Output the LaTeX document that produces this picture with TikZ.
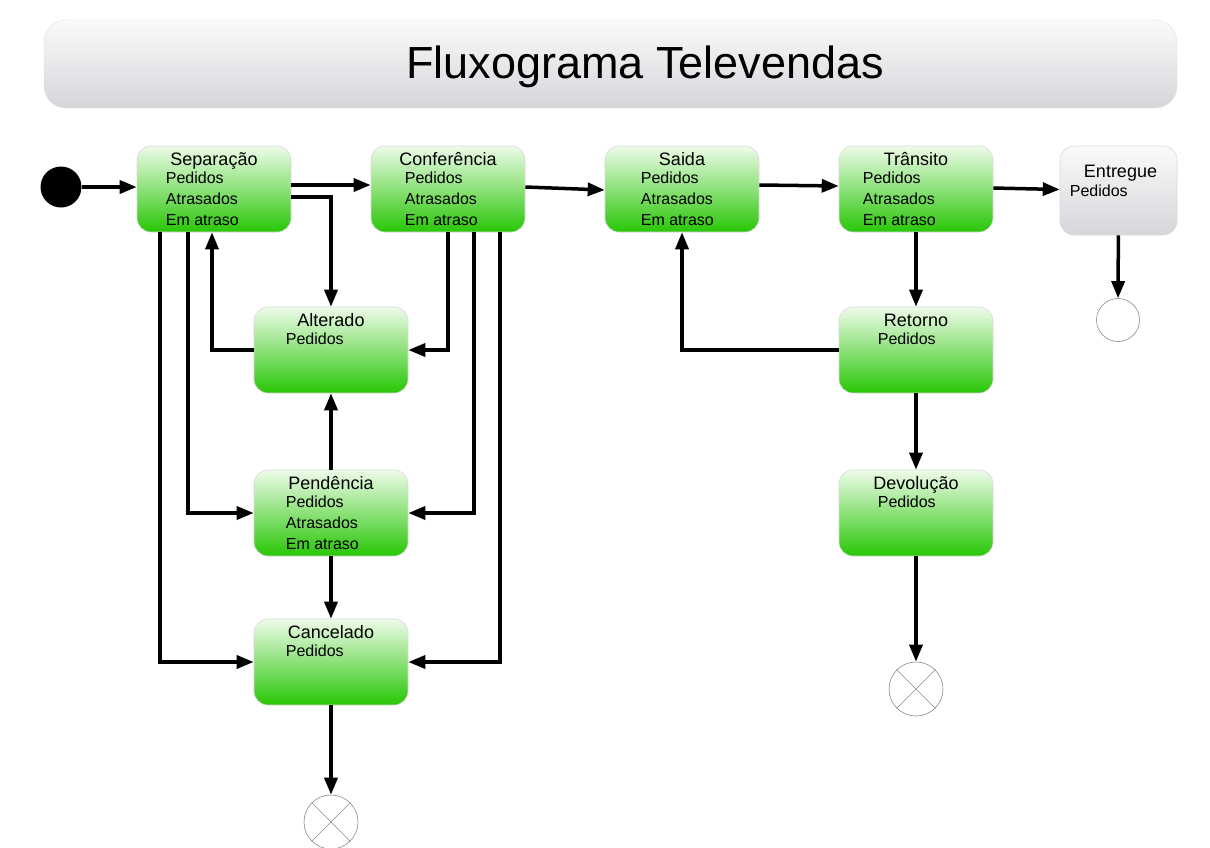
\documentclass[tikz,border=0pt]{standalone}
\usepackage{fontspec}
\setmainfont{Liberation Sans}
\usetikzlibrary{arrows.meta}
\definecolor{verdeA}{RGB}{238,252,234}
\definecolor{verdeB}{RGB}{40,198,6}
\definecolor{cinzaA}{RGB}{250,250,250}
\definecolor{cinzaB}{RGB}{212,214,218}
\tikzset{
    estado/.style ={rectangle,rounded corners=14pt,minimum width=154pt,minimum height=86pt,
        top color=verdeA,bottom color=verdeB,draw=black!15,line width=.6pt},
    entregue/.style ={estado,minimum width=117pt,minimum height=89pt,top color=cinzaA,bottom color=cinzaB},
    titulo/.style ={anchor=base,inner sep=0pt,font=\fontsize{18}{20}\selectfont},
    itens/.style ={anchor=north west,inner sep=0pt,align=left,font=\fontsize{16}{21}\selectfont},
    seta/.style ={line width=3.5pt,-{Triangle[length=17pt,width=13pt]}},
    fim/.style ={circle,minimum size=54pt,draw=black!45,line width=.6pt,fill=white},
    fimB/.style ={circle,minimum size=43pt,draw=black!45,line width=.6pt,fill=white}
}
\begin{document}
\begin{tikzpicture}[x=1pt,y=-1pt]
        \useasboundingbox (0,0) rectangle (1210,847);
        % cabecalho
        \node[rectangle,rounded corners=22pt,minimum width=1133pt,minimum height=88pt,
            top color=cinzaA,bottom color=cinzaB,draw=black!12] (cab) at (610.5,64) {};
        \node[anchor=base,font=\fontsize{45}{50}\selectfont] (cabT) at (645,78) {Fluxograma Televendas};
        % estados
        \node[circle,fill=black,minimum size=41pt] (ini) at (61,187) {};
        \node[estado] (sep) at (214,189) {};
        \node[titulo] (sepT) at ([yshift=-20pt]sep.north) {Separação};
        \node[itens] (sepL) at ([xshift=29pt,yshift=-26pt]sep.north west) {Pedidos\\Atrasados\\Em atraso};
        \node[estado] (conf) at (448,189) {};
        \node[titulo] (confT) at ([yshift=-20pt]conf.north) {Conferência};
        \node[itens] (confL) at ([xshift=34pt,yshift=-26pt]conf.north west) {Pedidos\\Atrasados\\Em atraso};
        \node[estado] (said) at (682,189) {};
        \node[titulo] (saidT) at ([yshift=-20pt]said.north) {Saida};
        \node[itens] (saidL) at ([xshift=36pt,yshift=-26pt]said.north west) {Pedidos\\Atrasados\\Em atraso};
        \node[estado] (tran) at (916,189) {};
        \node[titulo] (tranT) at ([yshift=-20pt]tran.north) {Trânsito};
        \node[itens] (tranL) at ([xshift=24pt,yshift=-26pt]tran.north west) {Pedidos\\Atrasados\\Em atraso};
        \node[entregue] (entr) at (1118.5,190.5) {};
        \node[titulo] (entrT) at ([xshift=2pt,yshift=-32pt]entr.north) {Entregue};
        \node[itens] (entrL) at ([xshift=10pt,yshift=-39pt]entr.north west) {Pedidos};
        \node[estado] (alt) at (331,350) {};
        \node[titulo] (altT) at ([yshift=-20pt]alt.north) {Alterado};
        \node[itens] (altL) at ([xshift=32pt,yshift=-26pt]alt.north west) {Pedidos};
        \node[estado] (pend) at (331,513) {};
        \node[titulo] (pendT) at ([yshift=-20pt]pend.north) {Pendência};
        \node[itens] (pendL) at ([xshift=32pt,yshift=-26pt]pend.north west) {Pedidos\\Atrasados\\Em atraso};
        \node[estado] (canc) at (331,662) {};
        \node[titulo] (cancT) at ([yshift=-20pt]canc.north) {Cancelado};
        \node[itens] (cancL) at ([xshift=32pt,yshift=-26pt]canc.north west) {Pedidos};
        \node[estado] (ret) at (916,350) {};
        \node[titulo] (retT) at ([yshift=-20pt]ret.north) {Retorno};
        \node[itens] (retL) at ([xshift=39pt,yshift=-26pt]ret.north west) {Pedidos};
        \node[estado] (dev) at (916,513) {};
        \node[titulo] (devT) at ([yshift=-20pt]dev.north) {Devolução};
        \node[itens] (devL) at ([xshift=39pt,yshift=-26pt]dev.north west) {Pedidos};
        % finais
        \node[fimB] (fimE) at (1118,320) {};
        \node[fim] (fimC) at (331,822) {};
        \draw[black!45,line width=.6pt] (fimC.45)--(fimC.225) (fimC.135)--(fimC.315);
        \node[fim] (fimD) at (916,689) {};
        \draw[black!45,line width=.6pt] (fimD.45)--(fimD.225) (fimD.135)--(fimD.315);
        % ligacoes
        \draw[seta] (ini) -- (ini -| sep.west);
        \draw[seta] ([yshift=4pt]sep.east) -- ([yshift=4pt]conf.west);
        \draw[seta] ([yshift=-8pt]sep.east) -| (alt.north);
        \draw[seta] (alt.west) -| ([xshift=-2pt]sep.south);
        \draw[seta] (conf.south) |- (alt.east);
        \draw[seta] ([xshift=26pt]conf.south) |- (pend.east);
        \draw[seta] ([xshift=52pt]conf.south) |- (canc.east);
        \draw[seta] ([xshift=-26pt]sep.south) |- (pend.west);
        \draw[seta] ([xshift=-54pt]sep.south) |- (canc.west);
        \draw[seta] (pend) -- (alt);
        \draw[seta] (pend) -- (canc);
        \draw[seta] (canc) -- (fimC);
        \draw[seta] ([yshift=2pt]conf.east) -- ([yshift=-1pt]said.west);
        \draw[seta] ([yshift=4pt]said.east) -- ([yshift=3pt]tran.west);
        \draw[seta] ([yshift=1pt]tran.east) -- ([yshift=1pt]entr.west);
        \draw[seta] (tran) -- (ret);
        \draw[seta] (ret.west) -| (said.south);
        \draw[seta] (ret) -- (dev);
        \draw[seta] (dev) -- (fimD);
        \draw[seta] (entr) -- (fimE);
    \end{tikzpicture}
\end{document}
